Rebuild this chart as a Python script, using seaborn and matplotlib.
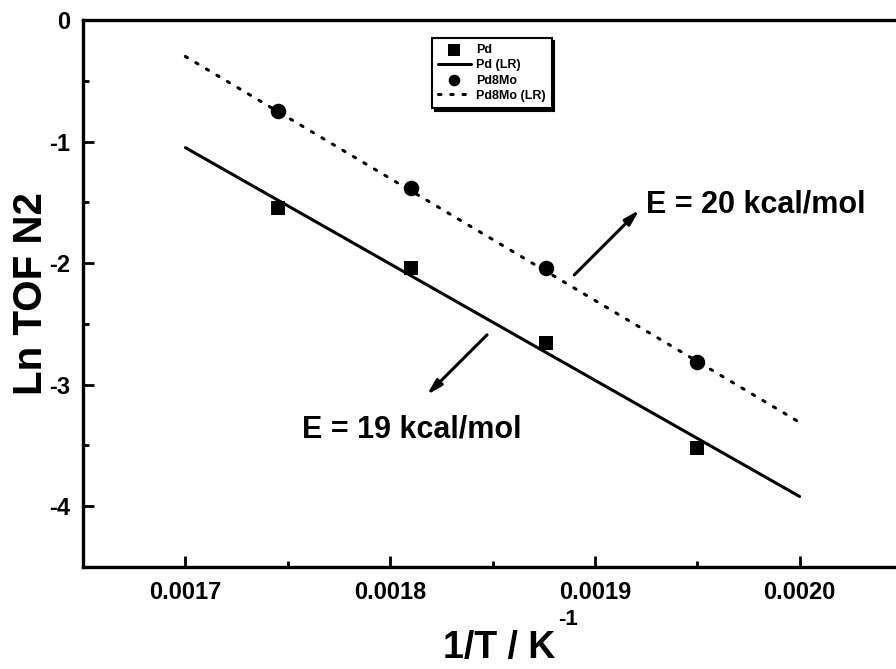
import matplotlib
matplotlib.use("Agg")
import matplotlib.pyplot as plt
import pandas as pd
import seaborn as sns
from matplotlib.ticker import FixedLocator, MultipleLocator, FormatStrFormatter

# Datos (1/T en K^-1, Ln TOF N2)
inv_T = [0.001745, 0.00181, 0.001876, 0.00195]
ln_tof_pd = [-1.55, -2.04, -2.66, -3.52]
ln_tof_pd8mo = [-0.75, -1.38, -2.04, -2.81]

# Rectas de regresión (extremos)
fit_x = [0.0017, 0.0020]
fit_pd = [-1.05, -3.92]
fit_pd8mo = [-0.30, -3.31]

x_ticks = [0.0017, 0.0018, 0.0019, 0.0020]
y_ticks = [0, -1, -2, -3, -4]

sns.set_style("ticks")
plt.rcParams["font.family"] = ["Liberation Sans", "DejaVu Sans"]
plt.rcParams["font.weight"] = "bold"
plt.rcParams["axes.unicode_minus"] = False
for key in ["text.color", "axes.labelcolor", "xtick.color", "ytick.color", "axes.edgecolor"]:
    plt.rcParams[key] = "black"

points = pd.DataFrame({"x": inv_T, "pd": ln_tof_pd, "pd8mo": ln_tof_pd8mo})
fits = pd.DataFrame({"x": fit_x, "pd": fit_pd, "pd8mo": fit_pd8mo})

fig = plt.figure(figsize=(8.96, 6.69), dpi=100)
ax = fig.add_axes([83 / 896, 1 - 567 / 669, 819 / 896, 547 / 669])

sns.scatterplot(data=points, x="x", y="pd", marker="s", s=115, color="black",
                edgecolor="black", linewidth=0, label="Pd", ax=ax, zorder=3)
sns.lineplot(data=fits, x="x", y="pd", color="black", linewidth=2.2,
             label="Pd (LR)", ax=ax)
sns.scatterplot(data=points, x="x", y="pd8mo", marker="o", s=125, color="black",
                edgecolor="black", linewidth=0, label="Pd8Mo", ax=ax, zorder=3)
sns.lineplot(data=fits, x="x", y="pd8mo", color="black", linewidth=2.2,
             label="Pd8Mo (LR)", ax=ax)
ax.lines[-1].set_linestyle((0, (0.8, 3.2)))
ax.lines[-1].set_dash_capstyle("round")

ax.set_xlim(0.00165, 0.00205)
ax.set_ylim(-4.5, 0)

ax.xaxis.set_major_locator(FixedLocator(x_ticks))
ax.xaxis.set_minor_locator(MultipleLocator(0.00005))
ax.xaxis.set_major_formatter(FormatStrFormatter("%.4f"))
ax.yaxis.set_major_locator(FixedLocator(y_ticks))
ax.yaxis.set_minor_locator(MultipleLocator(0.5))
ax.yaxis.set_major_formatter(FormatStrFormatter("%d"))

ax.tick_params(which="both", direction="in", width=2, labelsize=17)
ax.tick_params(axis="y", pad=9)
ax.tick_params(axis="x", pad=10)
ax.tick_params(which="major", length=8)
ax.tick_params(which="minor", length=4)
for lab in ax.get_xticklabels() + ax.get_yticklabels():
    lab.set_fontweight("bold")
for side in ax.spines.values():
    side.set_linewidth(2.4)

# Etiquetas de ejes
ax.set_xlabel("1/T / K", fontsize=27, fontweight="bold")
ax.xaxis.label.set_va("baseline")
ax.xaxis.set_label_coords(0.508, -0.166)
fig.text(558 / 896, 1 - 630 / 669, "-1", fontsize=16, fontweight="bold",
         ha="left", va="bottom")
ax.set_ylabel("Ln TOF N2", fontsize=29, fontweight="bold")
ax.yaxis.set_label_coords(-0.040, 0.5)

leg = ax.legend(loc="upper left", bbox_to_anchor=(0.426, 0.967), fontsize=9,
                frameon=True, fancybox=False, edgecolor="black", framealpha=1,
                shadow={"color": "black", "alpha": 1}, handlelength=2.6,
                labelspacing=0.25, markerscale=0.75, borderpad=0.5,
                handletextpad=0.4, borderaxespad=0)
leg.get_frame().set_linewidth(1.5)
for t in leg.get_texts():
    t.set_fontweight("bold")

# Flechas y energías de activación
arrow = dict(arrowstyle="-|>,head_length=0.9,head_width=0.25", color="black", lw=2.2)
ax.annotate("", xy=(0.0019227, -1.546), xytext=(0.001889, -2.113), arrowprops=arrow)
ax.annotate("", xy=(0.001817, -3.10), xytext=(0.0018483, -2.574), arrowprops=arrow)
ax.text(0.001925, -1.52, "E = 20 kcal/mol", fontsize=22, fontweight="bold",
        ha="left", va="center")
ax.text(0.0017568, -3.37, "E = 19 kcal/mol", fontsize=22, fontweight="bold",
        ha="left", va="center")

fig.savefig("out.png", dpi=100)
plt.close(fig)
